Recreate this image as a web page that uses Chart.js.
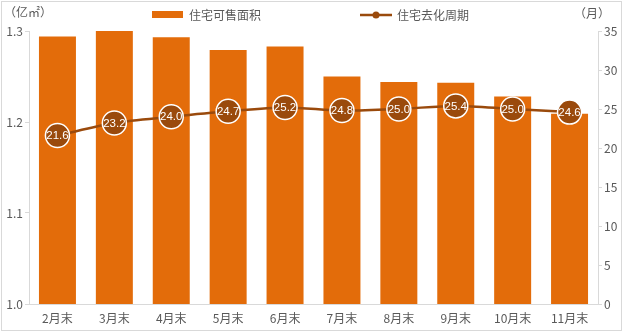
<!DOCTYPE html>
<html>
<head>
<meta charset="utf-8">
<script src="https://cdn.jsdelivr.net/npm/chart.js@4"></script>
<style>
  html, body { margin: 0; padding: 0; background: #fff; }
  #wrap { width: 624px; height: 332px; position: relative; }
</style>
</head>
<body>
<div id="wrap"><canvas id="myChart" width="624" height="332"></canvas></div>
<script>
const months = ['2月末', '3月末', '4月末', '5月末', '6月末', '7月末', '8月末', '9月末', '10月末', '11月末'];
const saleArea = [1.294, 1.300, 1.293, 1.279, 1.283, 1.250, 1.244, 1.243, 1.228, 1.209];
const cycleMonths = [21.6, 23.2, 24.0, 24.7, 25.2, 24.8, 25.0, 25.4, 25.0, 24.6];
const leftTicks = [1.0, 1.1, 1.2, 1.3];
const rightTicks = [0, 5, 10, 15, 20, 25, 30, 35];

const FONT = "'Noto Sans CJK SC', 'Noto Sans', sans-serif";
const ORANGE = '#E36C0A';
const BROWN = '#9A4A0C';
const GREY = '#595959';

// legend, axis titles, value bubbles, outer frame
const extras = {
    id: 'extras',
    afterDatasetsDraw(chart) {
        const c = chart.ctx;
        c.save();
        // value text inside the points
        const meta = chart.getDatasetMeta(1);
        c.font = "11.5px 'Liberation Sans', sans-serif";
        c.fillStyle = '#fff';
        c.textAlign = 'center';
        c.textBaseline = 'middle';
        meta.data.forEach(function(pt, i) {
            c.fillText(cycleMonths[i].toFixed(1), pt.x, pt.y + 0.5);
        });
        c.restore();
    },
    afterDraw(chart) {
        const c = chart.ctx;
        c.save();
        c.font = '12px ' + FONT;
        c.textBaseline = 'middle';
        // legend
        c.fillStyle = ORANGE;
        c.fillRect(152, 11, 31, 7);
        c.fillStyle = GREY;
        c.textAlign = 'left';
        c.fillText('住宅可售面积', 189, 15);
        c.strokeStyle = BROWN;
        c.lineWidth = 2.5;
        c.beginPath();
        c.moveTo(360, 15);
        c.lineTo(392, 15);
        c.stroke();
        c.fillStyle = BROWN;
        c.beginPath();
        c.arc(376, 15, 3.5, 0, Math.PI * 2);
        c.fill();
        c.fillStyle = GREY;
        c.fillText('住宅去化周期', 397, 15);
        // axis titles
        c.fillText('（亿㎡）', 4, 12);
        c.fillText('（月）', 574, 13);
        // frame
        c.strokeStyle = '#d9d9d9';
        c.lineWidth = 1;
        c.strokeRect(1.5, 1.5, 620, 329);
        c.restore();
    }
};

const ctx = document.getElementById('myChart').getContext('2d');
const myChart = new Chart(ctx, {
    type: 'bar',
    data: {
        labels: months,
        datasets: [{
            label: '住宅可售面积',
            data: saleArea,
            backgroundColor: ORANGE,
            yAxisID: 'y',
            barPercentage: 0.65,
            categoryPercentage: 1,
            order: 2
        }, {
            type: 'line',
            label: '住宅去化周期',
            data: cycleMonths,
            yAxisID: 'y1',
            borderColor: BROWN,
            borderWidth: 2.5,
            pointRadius: 12,
            pointHoverRadius: 12,
            pointBackgroundColor: BROWN,
            pointBorderColor: '#fff',
            pointBorderWidth: 1.5,
            tension: 0.3,
            order: 1
        }]
    },
    options: {
        responsive: false,
        animation: false,
        layout: { padding: { top: 31, left: 0, right: 0, bottom: 0 } },
        plugins: {
            legend: { display: false },
            tooltip: { enabled: false }
        },
        scales: {
            x: {
                grid: { display: false, drawTicks: false },
                border: { color: '#d9d9d9' },
                ticks: { color: GREY, font: { family: FONT, size: 12 }, padding: 7 },
                afterFit: function(s) { s.height = 28; }
            },
            y: {
                position: 'left',
                min: 1.0,
                max: 1.3,
                afterBuildTicks: function(s) { s.ticks = leftTicks.map(v => ({ value: v })); },
                ticks: {
                    color: GREY,
                    font: { family: FONT, size: 12 },
                    padding: 2,
                    callback: v => v.toFixed(1)
                },
                grid: { drawOnChartArea: false, tickLength: 4, color: '#d9d9d9' },
                border: { color: '#d9d9d9' },
                afterFit: function(s) { s.width = 29; }
            },
            y1: {
                position: 'right',
                min: 0,
                max: 35,
                afterBuildTicks: function(s) { s.ticks = rightTicks.map(v => ({ value: v })); },
                ticks: { color: GREY, font: { family: FONT, size: 12 }, padding: 2 },
                grid: { drawOnChartArea: false, tickLength: 4, color: '#d9d9d9' },
                border: { color: '#d9d9d9' },
                afterFit: function(s) { s.width = 26; }
            }
        }
    },
    plugins: [extras]
});
</script>
</body>
</html>
